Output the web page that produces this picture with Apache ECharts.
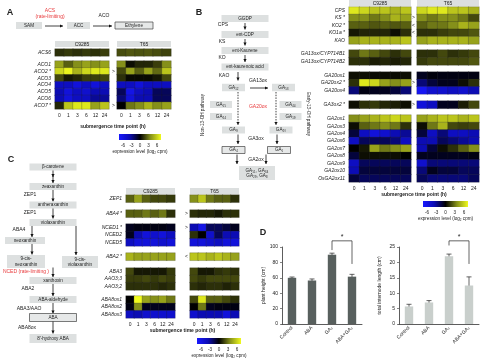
<!DOCTYPE html>
<html>
<head>
<meta charset="utf-8">
<script src="https://cdn.jsdelivr.net/npm/echarts@6/dist/echarts.min.js"></script>
<style>
html,body{margin:0;padding:0;background:#fff}
#main{width:481px;height:360px}
</style>
</head>
<body>
<div id="main"></div>
<script>
var FONT = 'Liberation Sans, Arial, sans-serif';
var times = ['0', '1', '3', '6', '12', '24'];
var cbTicks = [-6, -3, 0, 3, 6];
var heatColors = ['#1818ff', '#0c0cb4', '#000000', '#85901a', '#f0fa1e'];

// A - ethylene
var acsGenes = ['ACS6'];
var acs_C9285 = [[1.0, 1.2, 1.0, 1.2, 1.0, 1.3]];
var acs_T65 = [[1.6, 1.8, 1.7, 1.8, 1.6, 1.4]];
var acoGenes = ['ACO1', 'ACO2 *', 'ACO3', 'ACO4', 'ACO5', 'ACO6', 'ACO7 *'];
var acoMarks = ['', '>', '', '', '', '', '>'];
var aco_C9285 = [
  [3.5, 2, 3, 3.5, 3, 3.5],
  [5, 5.8, 4, 5, 5.5, 5.5],
  [1.5, 0.5, 0.8, 1.3, 1.3, 1.5],
  [-3.5, -3.5, -4.5, -3.5, -4.5, -3.5],
  [-3, -4.5, -3.5, -4, -3, -3],
  [-3, -4.5, -3.5, -3.5, -2.5, -2.5],
  [0.8, 4.5, 5.5, 5.5, 3.5, 4.5]
];
var aco_T65 = [
  [3, 0.3, 0.8, 0.8, 1.3, 3],
  [1.5, 3.5, 2, 3.5, 2.2, 4.5],
  [1, 0.2, 0.2, 0.2, 0.5, 1.5],
  [-3.5, -3.5, -4.5, -3.5, -3.5, -3.5],
  [-1.5, -5, -3.5, -3, -1.5, -1.5],
  [-2, -4.5, -3, -3, -1.5, -1.5],
  [0, 2.5, 3, 4, 3, 3.5]
];

// B - gibberellin
var kGenes = ['CPS', 'KS *', 'KO2 *', 'KO1a *', 'KAO'];
var kMarks = ['', '>', '<', '<', ''];
var k_C9285 = [
  [5.5, 5, 4.5, 4.5, 4, 4.5],
  [3, 3, 2.5, 3, 4, 3.5],
  [2, 2, 1.8, 2, 1.8, 2],
  [0.5, 0.8, 0.8, 0.8, 0.3, 1],
  [3.5, 4, 4, 4, 4, 4.5]
];
var k_T65 = [
  [5, 5.5, 5.5, 4.5, 4.5, 4],
  [3, 2.5, 3, 3, 2.5, 1.5],
  [2, 2.5, 2.5, 3, 4, 3.5],
  [1, 1, 1.3, 1.5, 1.5, 1.8],
  [3.5, 4, 4, 4, 4, 3.5]
];
var ga13Genes = ['GA13ox/CYP714B1', 'GA13ox/CYP714B2'];
var ga13_C9285 = [[1.5, 2.5, 2, 1.5, 1, 1.5], [1, 1, 0.6, 0.8, 0.6, 0.8]];
var ga13_T65 = [[1, 1, 1.5, 1, 1.2, 1.5], [1.2, 1.5, 1.5, 1.5, 1.5, 1.8]];
var ga20Genes = ['GA20ox1', 'GA20ox2 *', 'GA20ox4'];
var ga20Marks = ['', '>', ''];
var ga20_C9285 = [[0.3, 0.3, 0.2, 0.2, 0.2, 0.3], [1, 5.5, 5, 3.5, 3, 3.5], [-2, -0.3, -0.5, -0.5, -1, -2]];
var ga20_T65 = [[-0.5, -0.2, -0.3, -0.3, -0.3, -0.3], [-2, -1, -0.5, -0.5, 0.3, 1], [-5.5, -4, -4, -3.5, -4, -3]];
var ga3Genes = ['GA3ox2 *'];
var ga3Marks = ['>'];
var ga3_C9285 = [[0.3, 1, 1.2, 0.8, 0.6, 0.3]];
var ga3_T65 = [[-4.5, -3.5, -0.5, -0.5, 0.6, 1.5]];
var ga2Genes = ['GA2ox1', 'GA2ox3', 'GA2ox4', 'GA2ox6', 'GA2ox7', 'GA2ox8', 'GA2ox9', 'GA2ox10', 'OsGA2ox11'];
var ga2_C9285 = [
  [3, 3.5, 4, 4.5, 5, 4.5],
  [0.3, 2, 2.5, 3, 2.5, 1],
  [-1, -3.5, -4.5, -4, -3, -2.5],
  [-3.5, -1.5, -1.5, -1.5, -2, -3.5],
  [0, 0.5, 3.5, 2.5, 3, 3.5],
  [-1, 0.3, 0.3, 0.3, 0.3, 0],
  [-3.5, -1.5, -1.5, -1.5, -1.5, -1.5],
  [-3, -1, -1, -1, -1, -1],
  [-1, -1.5, -1.5, -1.5, -1.5, -1.5]
];
var ga2_T65 = [
  [3.5, 4, 4.5, 4.5, 4, 4.5],
  [0.3, 2.5, 4, 1.5, 1.3, 1.5],
  [-1, -3.5, -2, -3.5, -3.5, -3],
  [-3, -3, -1.5, -2, -2.5, -3],
  [-3, -1, 0.3, 1, 2, 3],
  [-0.5, -0.5, -0.5, -0.5, -0.5, -0.3],
  [-4, -2, -2, -2, -2, -2],
  [-2, -0.5, -1, -1, -1.5, -1.5],
  [-1.5, -2, -2, -2, -2, -1.5]
];

// C - abscisic acid
var zepGenes = ['ZEP1'];
var zep_C9285 = [[2, 3.5, 2, 1.5, 1.5, 1.2]];
var zep_T65 = [[3, 4.5, 2.5, 2, 2, 1]];
var aba4Genes = ['ABA4 *'];
var aba4Marks = ['>'];
var aba4_C9285 = [[2, 2, 2.5, 2, 2.5, 1]];
var aba4_T65 = [[1, 0.8, 0.8, 0.5, 1, 1]];
var ncedGenes = ['NCED1 *', 'NCED2', 'NCED5'];
var ncedMarks = ['>', '', ''];
var nced_C9285 = [[-0.5, -0.3, -0.3, -0.3, -0.3, -0.5], [-0.5, -3, -4.5, -4, -4.5, -3.5], [-3.5, -4.5, -4.5, -4.5, -4, -4.5]];
var nced_T65 = [[-3, -5, -1.5, -1.5, -1, -0.5], [1, 0, -4, -1.5, -3, -3], [-4.5, -4.5, -4, -3.5, -4.5, -4.5]];
var aba2Genes = ['ABA2 *'];
var aba2Marks = ['<'];
var aba2_C9285 = [[4, 3.5, 3.5, 3.5, 3.5, 3.5]];
var aba2_T65 = [[4.5, 4.5, 4, 4.5, 4, 3.5]];
var aaoGenes = ['ABA3', 'AAO3;3', 'AAO3;2'];
var aao_C9285 = [[1.5, 0.5, 0.5, 0.5, 0.5, 1.2], [1.3, 1.3, 1.5, 1.2, 1.5, 1.3], [1, 1, 1, 1, 0.8, 1]];
var aao_T65 = [[1.5, 0.5, 0.5, 1, 1.2, 1], [1.5, 1.2, 1.5, 1.5, 1.5, 1.5], [1, 0.8, 1, 1, 0.7, 1]];
var a8Genes = ['ABA8ox1', 'ABA8ox2', 'ABA8ox3'];
var a8_C9285 = [[0, 6, 3.5, 3, 3.5, 2.5], [-0.3, 3, -0.5, -0.5, -0.5, -0.5], [-3.5, -3, -4, -4, -4, -4]];
var a8_T65 = [[1.5, 5.5, 2, 2, 1.5, 1], [0, 2.5, -0.5, -0.3, -0.3, -0.3], [-4, -3, -3, -3, -4.5, -3]];

// D - treatments
var treatments = ['Control', 'ABA', 'GA₃', 'ABA+GA₃'];
var heightVals = [60, 56.5, 90, 61.5];
var heightErr = [1, 2, 2, 3];
var internodeVals = [5.7, 7, 22, 12.5];
var internodeErr = [0.7, 0.6, 0.7, 2.8];
var heightSig = [2, 3, 108, 96, 78];
var internodeSig = [2, 3, 27, 25.5, 19.5];

var grids = [], xAxes = [], yAxes = [], series = [], graphics = [], heatIdx = [];

function txt(x, y, s, o) {
  o = o || {};
  graphics.push({
    type: 'text', x: x, y: y, rotation: o.rot || 0, silent: true,
    style: {
      text: s, fill: o.color || '#222', fontSize: o.size || 5, fontFamily: FONT,
      fontWeight: o.bold ? 'bold' : 'normal', fontStyle: o.italic ? 'italic' : 'normal',
      align: o.align || 'center', verticalAlign: 'middle',
      textAlign: o.align || 'center', textVerticalAlign: 'middle', lineHeight: o.lh || 6
    }
  });
}
function box(cx, cy, w, h, s, border) {
  graphics.push({
    type: 'rect', silent: true, shape: {x: cx - w / 2, y: cy - h / 2, width: w, height: h},
    style: {fill: border ? '#e6e8e8' : '#dde0e0', stroke: border ? '#444' : null, lineWidth: 0.7}
  });
  txt(cx, cy, s, {size: 4.6, lh: 5.5});
}
function arrow(x1, y1, x2, y2, dash) {
  graphics.push({
    type: 'line', silent: true, shape: {x1: x1, y1: y1, x2: x2, y2: y2},
    style: {stroke: '#111', lineWidth: 0.8, lineDash: dash ? [1.5, 1.2] : null}
  });
  var a = Math.atan2(y2 - y1, x2 - x1), L = 3, W = 1.6;
  var bx = x2 - L * Math.cos(a), by = y2 - L * Math.sin(a);
  graphics.push({
    type: 'polygon', silent: true,
    shape: {points: [[x2, y2], [bx - W * Math.sin(a), by + W * Math.cos(a)], [bx + W * Math.sin(a), by - W * Math.cos(a)]]},
    style: {fill: '#111'}
  });
}

function heat(left, top, w, h, genes, vals, labels, gene, showX) {
  var gi = grids.length;
  grids.push({left: left, top: top, width: w, height: h});
  xAxes.push({
    type: 'category', gridIndex: gi, data: times,
    axisLine: {show: false}, axisTick: {show: false}, splitLine: {show: false},
    axisLabel: {show: showX, interval: 0, hideOverlap: false, fontSize: 5, margin: 4, color: '#222', fontFamily: FONT}
  });
  yAxes.push({
    type: 'category', gridIndex: gi, data: genes, inverse: true,
    axisLine: {show: false}, axisTick: {show: false}, splitLine: {show: false},
    axisLabel: {
      show: !!labels, interval: 0, hideOverlap: false, fontSize: 5, margin: gene ? 4 : 2,
      color: '#222', fontFamily: FONT, fontStyle: gene ? 'italic' : 'normal',
      formatter: function (v, i) { return labels ? labels[i] : ''; }
    }
  });
  var d = [];
  vals.forEach(function (row, r) {
    row.forEach(function (v, c) { d.push([c, r, v]); });
  });
  heatIdx.push(series.length);
  series.push({
    type: 'heatmap', xAxisIndex: gi, yAxisIndex: gi, data: d, silent: true,
    itemStyle: {borderColor: 'rgba(35,35,35,0.6)', borderWidth: 0.4}
  });
}
function pair(L, top, h, genes, cv, tv, marks, showX) {
  heat(L.c, top, L.w, h, genes, cv, genes, true, showX);
  heat(L.t, top, L.w, h, genes, tv, marks || null, false, showX);
}
function header(L, y) {
  [['C9285', L.c], ['T65', L.t]].forEach(function (p) {
    graphics.push({type: 'rect', silent: true, shape: {x: p[1], y: y, width: L.w, height: 6}, style: {fill: '#dcdfdf'}});
    txt(p[1] + L.w / 2, y + 3.2, p[0], {size: 5});
  });
}
function footer(L, yTitle, cbx, cby, cbw) {
  txt((L.c + L.t + L.w) / 2, yTitle, 'submergence time point (h)', {bold: true, size: 5});
  graphics.push({
    type: 'rect', silent: true, shape: {x: cbx, y: cby, width: cbw, height: 6},
    style: {fill: new echarts.graphic.LinearGradient(0, 0, 1, 0, heatColors.map(function (c, i) {
      return {offset: i / (heatColors.length - 1), color: c};
    }))}
  });
  cbTicks.forEach(function (t, i) {
    txt(cbx + 4 + (cbw - 8) * i / (cbTicks.length - 1), cby + 11.5, String(t), {size: 4.6});
  });
  txt(cbx + cbw / 2, cby + 17.5, 'expression level (log₂ cpm)', {size: 4.6});
}

// ---------- panel A ----------
txt(10, 13, 'A', {bold: true, size: 9});
box(29, 25.5, 26, 7, 'SAM');
box(78.5, 25.5, 23, 7, 'ACC');
box(134, 25.5, 38, 7, 'Ethylene', true);
arrow(45, 26, 63, 26);
arrow(93, 26, 112, 26);
txt(50, 11, 'ACS', {color: '#e8383a', size: 5});
txt(50, 17, '(rate-limiting)', {color: '#e8383a', size: 5});
txt(104, 15.5, 'ACO', {size: 5});
var LA = {c: 55, t: 117, w: 54};
header(LA, 41);
pair(LA, 49, 7, acsGenes, acs_C9285, acs_T65, null, false);
pair(LA, 61, 48, acoGenes, aco_C9285, aco_T65, acoMarks, true);
footer(LA, 127, 119, 134, 42);

// ---------- panel B ----------
txt(199, 13, 'B', {bold: true, size: 9});
box(245, 18.5, 47, 7, 'GGDP');
box(245, 34.5, 47, 7, 'ent-CDP');
box(245, 50.5, 47, 7, 'ent-Kaurene');
box(245, 67, 47, 7, 'ent-kaurenoic acid');
txt(223, 24.5, 'CPS'); arrow(245, 23, 245, 29.5);
txt(222, 41.5, 'KS'); arrow(245, 39, 245, 45.5);
txt(222, 57.5, 'KO'); arrow(245, 55, 245, 62);
txt(224, 75.5, 'KAO'); arrow(238, 72, 238, 80.5);
box(233.5, 87.5, 23, 7.5, 'GA₁₂');
txt(258, 80.5, 'GA13ox'); arrow(250, 88, 268, 88);
box(283.5, 87.5, 23, 7.5, 'GA₅₃');
box(221, 104.5, 22, 7, 'GA₁₅');
box(290.5, 104.5, 22, 7, 'GA₄₄');
txt(258, 107, 'GA20ox', {color: '#e8383a'});
box(221, 116.5, 22, 7, 'GA₂₄');
box(290.5, 116.5, 22, 7, 'GA₁₉');
arrow(238, 92, 238, 125, true);
arrow(276, 92, 276, 125, true);
box(233.5, 130, 23, 7, 'GA₉');
box(281, 130, 23, 7, 'GA₂₀');
txt(256, 138.5, 'GA3ox'); arrow(238, 134.5, 238, 144); arrow(277, 134.5, 277, 144);
box(233.5, 150, 23, 7, 'GA₄', true);
box(279, 150, 23, 7, 'GA₁', true);
txt(256, 159.5, 'GA2ox'); arrow(237, 154.5, 237, 164); arrow(266, 154.5, 266, 164);
box(257, 173, 36, 14, 'GA₅₁, GA₃₄\nGA₂₉, GA₈');
txt(203, 115, 'Non-13-OH pathway', {rot: Math.PI / 2, size: 4.6});
txt(308, 114, 'Early-13-OH pathway', {rot: -Math.PI / 2, size: 4.6});

var LB = {c: 349, t: 417, w: 62};
header(LB, 0);
pair(LB, 7, 37, kGenes, k_C9285, k_T65, kMarks, false);
pair(LB, 50, 15, ga13Genes, ga13_C9285, ga13_T65, null, false);
pair(LB, 72, 22, ga20Genes, ga20_C9285, ga20_T65, ga20Marks, false);
pair(LB, 101, 7.4, ga3Genes, ga3_C9285, ga3_T65, ga3Marks, false);
pair(LB, 115, 67, ga2Genes, ga2_C9285, ga2_T65, null, true);
footer(LB, 194.5, 423, 201, 45);

// ---------- panel C ----------
txt(11, 160, 'C', {bold: true, size: 9});
box(53, 167, 47, 7, 'β-carotene');
arrow(53, 170.5, 53, 177); arrow(53, 176, 53, 183);
box(53, 186.5, 47, 7, 'zeaxanthin');
txt(30, 194.5, 'ZEP1'); arrow(53, 190, 53, 201.5);
box(53, 205, 47, 7, 'antheraxanthin');
txt(30, 213, 'ZEP1'); arrow(53, 208.5, 53, 218.5);
box(53, 222.5, 47, 7, 'violaxanthin');
txt(19, 230, 'ABA4'); arrow(32, 226, 32, 237);
box(25, 240.5, 40, 7, 'neoxanthin');
arrow(32, 244, 32, 254.5);
box(26, 261.5, 38, 13, '9-cis-\nneoxanthin');
arrow(76, 226, 76, 255);
box(80, 262, 36, 12, '9-cis-\nviolaxanthin');
txt(49, 272, 'NCED (rate-limiting )', {color: '#e8383a', align: 'right'});
arrow(53, 267.5, 53, 277);
box(53, 280.5, 47, 7, 'xanthoxin');
txt(28, 289, 'ABA2'); arrow(53, 284, 53, 296);
box(53, 299.5, 47, 7, 'ABA-aldehyde');
txt(29, 309, 'ABA3/AAO'); arrow(53, 303, 53, 313.5);
box(53, 317.5, 47, 8, 'ABA', true);
txt(27, 328, 'ABA8ox'); arrow(53, 321.5, 53, 333.5);
box(53, 338.5, 47, 9, "8'-hydroxy ABA");

var LC = {c: 126, t: 190, w: 49};
header(LC, 188);
pair(LC, 195, 7.3, zepGenes, zep_C9285, zep_T65, null, false);
pair(LC, 210, 7.3, aba4Genes, aba4_C9285, aba4_T65, aba4Marks, false);
pair(LC, 224, 22, ncedGenes, nced_C9285, nced_T65, ncedMarks, false);
pair(LC, 253, 7.3, aba2Genes, aba2_C9285, aba2_T65, aba2Marks, false);
pair(LC, 268, 22, aaoGenes, aao_C9285, aao_T65, null, false);
pair(LC, 296, 22, a8Genes, a8_C9285, a8_T65, null, true);
footer(LC, 330.5, 197, 338, 44);

// ---------- panel D ----------
txt(263, 233, 'D', {bold: true, size: 9});

function errItem(params, api) {
  var x = api.value(0);
  var p1 = api.coord([x, api.value(2)]), p2 = api.coord([x, api.value(1)]);
  var st = {stroke: '#222', lineWidth: 0.7};
  return {type: 'group', children: [
    {type: 'line', shape: {x1: p1[0], y1: p1[1], x2: p2[0], y2: p2[1]}, style: st},
    {type: 'line', shape: {x1: p1[0] - 2.5, y1: p1[1], x2: p1[0] + 2.5, y2: p1[1]}, style: st},
    {type: 'line', shape: {x1: p2[0] - 2.5, y1: p2[1], x2: p2[0] + 2.5, y2: p2[1]}, style: st}
  ]};
}
function sigItem(params, api) {
  var a = api.coord([api.value(0), api.value(3)]);
  var b = api.coord([api.value(0), api.value(2)]);
  var c = api.coord([api.value(1), api.value(2)]);
  var d = api.coord([api.value(1), api.value(4)]);
  return {type: 'group', children: [
    {type: 'polyline', shape: {points: [a, b, c, d]}, style: {stroke: '#222', lineWidth: 0.7, fill: null}},
    {type: 'text', x: (b[0] + c[0]) / 2, y: b[1] - 4,
      style: {text: '*', fontSize: 7, fontFamily: FONT, fill: '#222', align: 'center', verticalAlign: 'middle'}}
  ]};
}
function barChart(left, vals, errs, sig, max, interval, color, name, gap) {
  var gi = grids.length;
  grids.push({left: left, top: 247, width: 80, height: 77});
  xAxes.push({
    type: 'category', gridIndex: gi, data: treatments,
    axisLine: {lineStyle: {color: '#333', width: 0.8}},
    axisTick: {length: 2, lineStyle: {color: '#333', width: 0.6}},
    axisLabel: {rotate: 45, interval: 0, fontSize: 5, margin: 3, color: '#222', fontFamily: FONT}
  });
  yAxes.push({
    type: 'value', gridIndex: gi, min: 0, max: max, interval: interval,
    name: name, nameLocation: 'middle', nameGap: gap,
    nameTextStyle: {fontSize: 5, fontFamily: FONT, color: '#222'},
    axisLine: {show: true, lineStyle: {color: '#333', width: 0.8}},
    axisTick: {show: true, length: 2, lineStyle: {color: '#333', width: 0.6}},
    splitLine: {show: false},
    axisLabel: {fontSize: 5, margin: 4, color: '#222', fontFamily: FONT}
  });
  series.push({
    type: 'bar', xAxisIndex: gi, yAxisIndex: gi, data: vals, barWidth: '42%',
    itemStyle: {color: color}, silent: true
  });
  series.push({
    type: 'custom', xAxisIndex: gi, yAxisIndex: gi, renderItem: errItem, silent: true,
    data: vals.map(function (v, i) { return [i, v - errs[i], v + errs[i]]; })
  });
  series.push({
    type: 'custom', xAxisIndex: gi, yAxisIndex: gi, renderItem: sigItem, silent: true, clip: false,
    data: [sig]
  });
}
barChart(282, heightVals, heightErr, heightSig, 100, 20, '#58605e', 'plant height (cm)', 15);
barChart(399, internodeVals, internodeErr, internodeSig, 25, 5, '#c9cfcc', 'total internode length (cm)', 17);

var chart = echarts.init(document.getElementById('main'));
chart.setOption({
  animation: false,
  backgroundColor: '#fff',
  textStyle: {fontFamily: FONT},
  grid: grids,
  xAxis: xAxes,
  yAxis: yAxes,
  visualMap: {
    show: false, min: -6, max: 6, seriesIndex: heatIdx,
    inRange: {color: heatColors}
  },
  graphic: graphics,
  series: series
});
</script>
</body>
</html>
